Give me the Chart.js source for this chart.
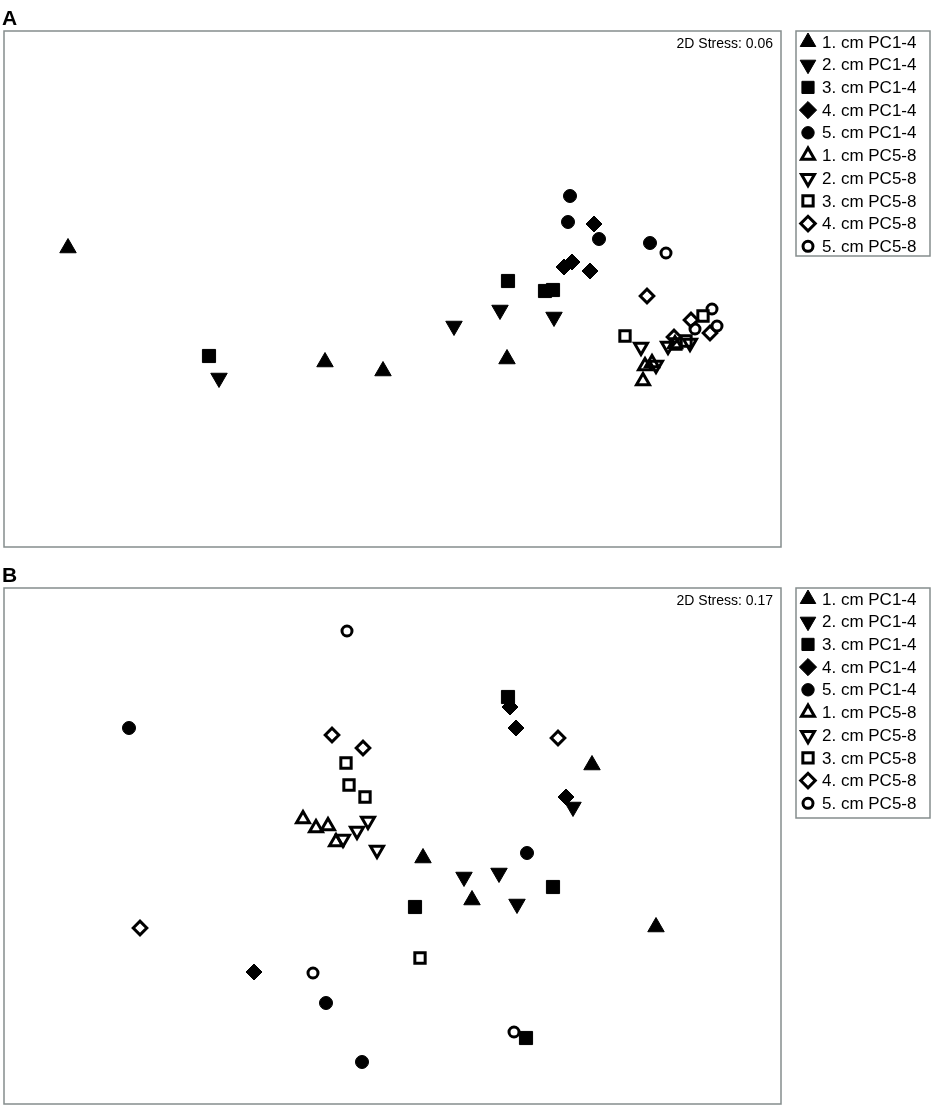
<!DOCTYPE html>
<html>
<head>
<meta charset="utf-8">
<script src="https://cdn.jsdelivr.net/npm/chart.js@4.4.0/dist/chart.umd.min.js"></script>
<style>
  body { margin: 0; background: #fff; width: 933px; height: 1110px; position: relative; overflow: hidden;
         font-family: Arial, "Liberation Sans", sans-serif; }
  .panel { position: absolute; left: 0; width: 933px; }
  .tag { position: absolute; left: 2px; font-weight: bold; font-size: 21px; line-height: 1; }
</style>
</head>
<body>
<div class="panel" style="top:0;height:560px"><canvas id="chartA" width="933" height="560"></canvas></div>
<div class="panel" style="top:560px;height:550px"><canvas id="chartB" width="933" height="550"></canvas></div>
<div class="tag" style="top:7px">A</div>
<div class="tag" style="top:564px">B</div>
<script>
// series names (same for both panels)
const seriesLabels = ['1. cm PC1-4', '2. cm PC1-4', '3. cm PC1-4', '4. cm PC1-4', '5. cm PC1-4',
                      '1. cm PC5-8', '2. cm PC5-8', '3. cm PC5-8', '4. cm PC5-8', '5. cm PC5-8']
const stressA = '2D Stress: 0.06'
const stressB = '2D Stress: 0.17'

// MDS coordinates (arbitrary units, one list per series)
const panelAX = [
  [64, 321, 379, 503],
  [215, 450, 496, 550],
  [205, 504, 541, 549],
  [590, 560, 568, 586],
  [566, 564, 595, 646],
  [639, 641, 648, 671],
  [637, 652, 664, 686],
  [621, 672, 682, 699],
  [643, 670, 687, 706],
  [662, 708, 691, 713]
]
const panelAY = [
  [299, 185, 176, 188],
  [169, 221, 237, 230],
  [191, 266, 256, 257],
  [323, 280, 285, 276],
  [351, 325, 308, 304],
  [166, 181, 184, 203],
  [200, 182, 201, 204],
  [211, 203, 206, 231],
  [251, 210, 227, 214],
  [294, 238, 218, 221]
]
const panelBX = [
  [419, 468, 588, 652],
  [569, 460, 495, 513],
  [504, 549, 411, 522],
  [506, 512, 562, 250],
  [125, 523, 322, 358],
  [299, 312, 324, 332],
  [339, 353, 364, 373],
  [342, 345, 361, 416],
  [328, 359, 554, 136],
  [343, 309, 510]
]
const panelBY = [
  [246, 204, 339, 177],
  [297, 227, 231, 200],
  [407, 217, 197, 66],
  [397, 376, 307, 132],
  [376, 251, 101, 42],
  [285, 276, 278, 262],
  [265, 273, 283, 254],
  [341, 319, 307, 146],
  [369, 356, 366, 176],
  [473, 131, 72]
]

const markerStyles = [
  { shape: 'triangle', rot: 0,   r: 9.5, lr: 9,   filled: true },
  { shape: 'triangle', rot: 180, r: 9.5, lr: 9,   filled: true },
  { shape: 'rect',     rot: 0,   r: 9.3, lr: 8.6, filled: true },
  { shape: 'rectRot',  rot: 0,   r: 8,   lr: 8.6, filled: true },
  { shape: 'circle',   rot: 0,   r: 6.5, lr: 6.2, filled: true },
  { shape: 'triangle', rot: 0,   r: 7.5, lr: 7.5, filled: false },
  { shape: 'triangle', rot: 180, r: 7.5, lr: 7.5, filled: false },
  { shape: 'rect',     rot: 0,   r: 7.3, lr: 7.3, filled: false },
  { shape: 'rectRot',  rot: 0,   r: 6.8, lr: 7.3, filled: false },
  { shape: 'circle',   rot: 0,   r: 5,   lr: 5,   filled: false }
]

const frameColor = '#858d8d'

const panelPlugin = {
  id: 'panelFrame',
  afterDraw(chart, args, opts) {
    const ctx = chart.ctx
    const a = chart.chartArea
    ctx.save()
    ctx.strokeStyle = frameColor
    ctx.lineWidth = 1.5
    ctx.strokeRect(a.left, a.top, a.right - a.left, a.bottom - a.top)

    ctx.fillStyle = '#000'
    ctx.font = '14px Arial, "Liberation Sans", sans-serif'
    ctx.textAlign = 'right'
    ctx.textBaseline = 'alphabetic'
    ctx.fillText(opts.stress, a.right - 8, a.top + 17)

    // legend box to the right of the plot
    const lx = a.right + 15
    const ly = a.top
    ctx.strokeStyle = frameColor
    ctx.lineWidth = 1.5
    ctx.strokeRect(lx, ly, chart.width - 3 - lx, opts.legendHeight)
    ctx.font = '17px Arial, "Liberation Sans", sans-serif'
    ctx.textAlign = 'left'
    ctx.textBaseline = 'middle'
    chart.data.datasets.forEach((ds, i) => {
      const st = markerStyles[i]
      const cy = ly + 11 + i * 22.7
      ctx.fillStyle = st.filled ? '#000' : 'rgba(0,0,0,0)'
      ctx.strokeStyle = '#000'
      ctx.lineWidth = st.filled ? 1 : 3
      Chart.helpers.drawPoint(ctx, {
        pointStyle: st.shape, rotation: st.rot, radius: st.lr, borderWidth: ctx.lineWidth
      }, lx + 12, cy)
      ctx.fillStyle = '#000'
      ctx.fillText(ds.label, lx + 26, cy + 1)
    })
    ctx.restore()
  }
}

function makeDatasets(xs, ys) {
  return seriesLabels.map((label, i) => {
    const st = markerStyles[i]
    return {
      label: label,
      data: xs[i].map((x, j) => ({ x: x, y: ys[i][j] })),
      showLine: false,
      pointStyle: st.shape,
      pointRotation: st.rot,
      pointRadius: st.r,
      pointHoverRadius: st.r,
      pointBackgroundColor: st.filled ? '#000' : 'rgba(0,0,0,0)',
      pointBorderColor: '#000',
      pointBorderWidth: st.filled ? 1 : 3
    }
  })
}

function makeChart(id, xs, ys, stress, pad, legendHeight) {
  const ctx = document.getElementById(id).getContext('2d')
  return new Chart(ctx, {
    type: 'scatter',
    data: { datasets: makeDatasets(xs, ys) },
    options: {
      responsive: false,
      animation: false,
      events: [],
      layout: { padding: pad, autoPadding: false },
      scales: {
        x: { display: false, min: 0, max: 777 },
        y: { display: false, min: 0, max: 516 }
      },
      plugins: {
        legend: { display: false },
        tooltip: { enabled: false },
        panelFrame: { stress: stress, legendHeight: legendHeight }
      }
    },
    plugins: [panelPlugin]
  })
}

makeChart('chartA', panelAX, panelAY, stressA, { left: 4, top: 31, right: 152, bottom: 13 }, 225)
makeChart('chartB', panelBX, panelBY, stressB, { left: 4, top: 28, right: 152, bottom: 6 }, 230)
</script>
</body>
</html>
